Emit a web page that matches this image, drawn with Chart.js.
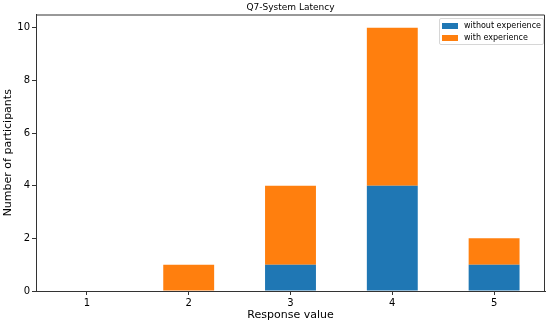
<!DOCTYPE html>
<html lang="en">
<head>
<meta charset="UTF-8">
<title>Q7-System Latency</title>
<script src="https://cdn.jsdelivr.net/npm/chart.js@4.4.1/dist/chart.umd.min.js"></script>
<style>
  body { margin: 0; background: #fff; }
  #wrap { position: relative; width: 550px; height: 322px; }
  #legend {
    position: absolute; left: 439px; top: 18px; width: 103px; height: 25px;
    border: 1px solid #d6d6d6; border-radius: 2px; background: rgba(255,255,255,0.8);
    font-family: "DejaVu Sans", sans-serif; font-size: 8px; color: #000;
  }
  #legend .row { position: absolute; left: 2px; height: 11px; line-height: 11px; white-space: nowrap; }
  #legend .sw { display: inline-block; width: 16px; height: 6px; margin-right: 6px; vertical-align: -1px; }
</style>
</head>
<body>
<div id="wrap">
  <canvas id="myChart" width="550" height="322"></canvas>
  <div id="legend"></div>
</div>
<script>
const responses = ["1", "2", "3", "4", "5"];
const withoutExp = [0, 0, 1, 4, 1];
const withExp = [0, 1, 3, 6, 1];
const seriesNames = ["without experience", "with experience"];
const seriesColors = ["#1f77b4", "#ff7f0e"];

const font = "DejaVu Sans";

// top + right spines like matplotlib
const frame = {
  id: "frame",
  afterDraw(chart) {
    const a = chart.chartArea, ctx = chart.ctx;
    ctx.save();
    ctx.strokeStyle = "#333";
    ctx.lineWidth = 1;
    ctx.beginPath();
    ctx.moveTo(a.left, a.top + 0.5);
    ctx.lineTo(a.right - 0.5, a.top + 0.5);
    ctx.lineTo(a.right - 0.5, a.bottom);
    ctx.stroke();
    ctx.restore();
  }
};

const chart = new Chart("myChart", {
  type: "bar",
  data: {
    labels: responses,
    datasets: [
      { label: seriesNames[0], data: withoutExp, backgroundColor: seriesColors[0] },
      { label: seriesNames[1], data: withExp, backgroundColor: seriesColors[1] }
    ]
  },
  options: {
    responsive: false,
    animation: false,
    layout: { padding: { left: 0, right: 5, top: 0, bottom: 0 } },
    datasets: { bar: { barPercentage: 0.5, categoryPercentage: 1.0 } },
    plugins: {
      legend: { display: false },
      tooltip: { enabled: false },
      title: {
        display: true, text: "Q7-System Latency", fullSize: false,
        color: "#000", font: { family: font, size: 9, weight: "normal", lineHeight: 1.2 },
        padding: { top: 2, bottom: 1.7 }
      }
    },
    scales: {
      x: {
        stacked: true,
        grid: { display: true, offset: false, drawOnChartArea: false, tickLength: 4, color: "#333" },
        border: { color: "#333", width: 1 },
        ticks: { color: "#000", font: { family: font, size: 10 }, padding: 2, maxRotation: 0 },
        title: { display: true, text: "Response value", color: "#000", font: { family: font, size: 11 }, padding: 0 },
        afterFit(s) { s.height = 31; }
      },
      y: {
        stacked: true, min: 0, max: 10.5,
        grid: { display: true, drawOnChartArea: false, tickLength: 4, color: "#333" },
        border: { color: "#333", width: 1 },
        ticks: { stepSize: 2, color: "#000", font: { family: font, size: 10 }, padding: 2 },
        afterBuildTicks(s) { s.ticks = s.ticks.filter(t => Number.isInteger(t.value)); },
        title: { display: true, text: "Number of participants", color: "#000", font: { family: font, size: 11 }, padding: { top: 2, bottom: 0 } },
        afterFit(s) { s.width = 36; }
      }
    }
  },
  plugins: [frame]
});

// legend built from the datasets
const lg = document.getElementById("legend");
chart.data.datasets.forEach((ds, i) => {
  const row = document.createElement("div");
  row.className = "row";
  row.style.top = (1 + i * 11.5) + "px";
  row.innerHTML = '<span class="sw" style="background:' + ds.backgroundColor + '"></span>' + ds.label;
  lg.appendChild(row);
});
</script>
</body>
</html>
